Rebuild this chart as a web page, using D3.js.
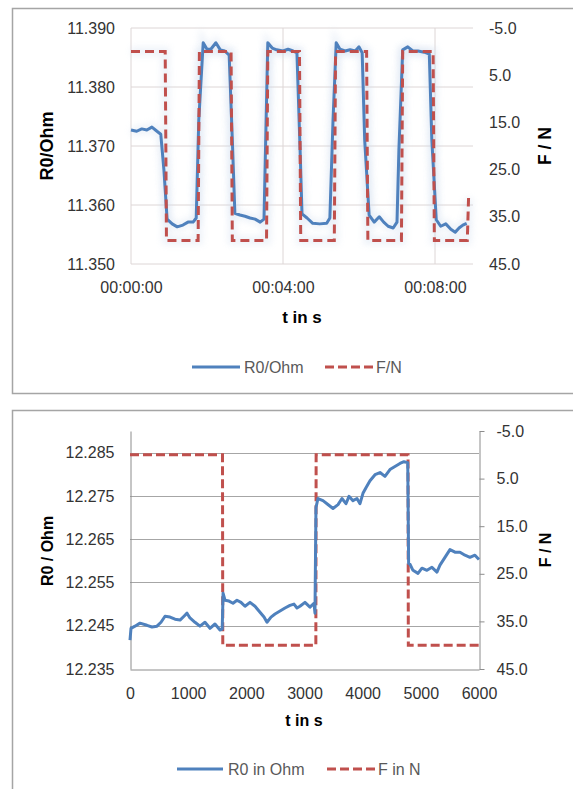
<!DOCTYPE html>
<html>
<head>
<meta charset="utf-8">
<script src="https://cdn.jsdelivr.net/npm/d3@7"></script>
<style>
  html, body { margin: 0; padding: 0; background: #fff; }
  svg { display: block; font-family: "Liberation Sans", Arial, sans-serif; }
</style>
</head>
<body>
<svg id="chart" width="573" height="789"></svg>
<script>
// ---------- Top chart data ----------
const topTimeTicks = [0, 240, 480];                 // seconds
const topTimeLabels = ["00:00:00", "00:04:00", "00:08:00"];
const topLeftTicks = [11.35, 11.36, 11.37, 11.38, 11.39];
const topRightTicks = [-5, 5, 15, 25, 35, 45];
const topR0 = [
  [0,11.3727],[9,11.3725],[17,11.3729],[25,11.3727],[33,11.3732],[41,11.3725],[47,11.3720],
  [52,11.3659],[57,11.3576],[65,11.3568],[73,11.3563],[82,11.3566],[90,11.3571],[98,11.3571],
  [103,11.3578],[107,11.3744],[114,11.3875],[120,11.3864],[126,11.3864],[134,11.3875],
  [141,11.3863],[148,11.3861],[155,11.3854],[160,11.3710],[164,11.3586],[172,11.3583],
  [180,11.3581],[188,11.3578],[196,11.3576],[204,11.3571],[210,11.3576],[213,11.3727],
  [216,11.3875],[223,11.3866],[230,11.3863],[240,11.3861],[248,11.3864],[256,11.3861],
  [262,11.3858],[267,11.3693],[270,11.3585],[278,11.3578],[287,11.3569],[298,11.3568],
  [309,11.3569],[314,11.3578],[319,11.3744],[324,11.3875],[330,11.3864],[338,11.3861],
  [346,11.3863],[354,11.3861],[360,11.3868],[365,11.3858],[369,11.3710],[376,11.3583],
  [384,11.3571],[392,11.3580],[399,11.3571],[406,11.3564],[414,11.3561],[420,11.3571],
  [423,11.3693],[429,11.3863],[437,11.3868],[445,11.3861],[453,11.3861],[463,11.3859],
  [471,11.3856],[475,11.3710],[482,11.3575],[489,11.3564],[497,11.3568],[505,11.3559],
  [512,11.3554],[518,11.3561],[524,11.3566],[530,11.3569]
];
const topF = [
  [0,0],[54,0],[56,40],[106,40],[108,0],[158,0],[160,40],[214,40],[216,0],[266,0],
  [268,40],[321,40],[323,0],[372,0],[374,40],[427,40],[429,0],[477,0],[479,40],
  [531,40],[533,31]
];

// ---------- Bottom chart data ----------
const botTimeTicks = [0, 1000, 2000, 3000, 4000, 5000, 6000];
const botLeftTicks = [12.235, 12.245, 12.255, 12.265, 12.275, 12.285];
const botRightTicks = [-5, 5, 15, 25, 35, 45];
const botR0 = [
  [0,12.2417],[17,12.2444],[86,12.2449],[172,12.2456],[292,12.2451],[378,12.2447],
  [464,12.2449],[533,12.2458],[602,12.2472],[688,12.2470],[774,12.2465],[860,12.2463],
  [928,12.2472],[980,12.2479],[1031,12.2468],[1117,12.2458],[1203,12.2449],[1289,12.2458],
  [1375,12.2444],[1461,12.2454],[1547,12.2440],[1585,12.2442],[1600,12.2525],[1633,12.2509],
  [1702,12.2507],[1771,12.2502],[1839,12.2509],[1908,12.2504],[1977,12.2495],[2063,12.2504],
  [2149,12.2495],[2235,12.2481],[2304,12.2470],[2355,12.2458],[2424,12.2470],[2493,12.2477],
  [2579,12.2484],[2665,12.2491],[2750,12.2497],[2819,12.2500],[2871,12.2491],[2922,12.2495],
  [3008,12.2504],[3094,12.2493],[3163,12.2502],[3180,12.2479],[3197,12.2723],[3232,12.2744],
  [3318,12.2739],[3386,12.2732],[3490,12.2721],[3576,12.2730],[3644,12.2744],[3713,12.2732],
  [3765,12.2749],[3833,12.2739],[3902,12.2744],[3954,12.2732],[4005,12.2756],[4057,12.2769],
  [4126,12.2785],[4212,12.2799],[4298,12.2804],[4383,12.2795],[4469,12.2811],[4555,12.2818],
  [4641,12.2825],[4710,12.2829],[4775,12.2827],[4790,12.2594],[4813,12.2592],[4865,12.2578],
  [4951,12.2571],[5019,12.2583],[5105,12.2578],[5191,12.2585],[5277,12.2574],[5329,12.2590],
  [5415,12.2608],[5501,12.2626],[5587,12.2620],[5673,12.2620],[5759,12.2613],[5844,12.2608],
  [5930,12.2613],[6000,12.2603]
];
const botF = [
  [0,0],[1590,0],[1595,40],[3195,40],[3200,0],[4780,0],[4785,40],[6000,40]
];

const BLUE = "#4f81bd", RED = "#c0504d", TXT = "#333333", LEG = "#595959";
const svg = d3.select("#chart");
const fmt1 = d => d3.format(".1f")(d).replace("\u2212", "-");

const defs = svg.append("defs");
const flt = defs.append("filter").attr("id","halo").attr("x","-10%").attr("y","-10%").attr("width","120%").attr("height","120%");
flt.append("feGaussianBlur").attr("stdDeviation", 3);

// ================= TOP CHART =================
svg.append("rect").attr("x",12.5).attr("y",8.5).attr("width",600).attr("height",385)
  .attr("fill","#fff").attr("stroke","#a5a5a5").attr("stroke-width",1.5);

const tX = d3.scaleLinear().domain([0,540]).range([131,473]);
const tYL = d3.scaleLinear().domain([11.35,11.39]).range([264,28]);
const tYR = d3.scaleLinear().domain([-5,45]).range([28,264]);
const gTop = svg.append("g");

gTop.append("g").selectAll("line").data(topLeftTicks).join("line")
  .attr("x1",131).attr("x2",473).attr("y1",d=>tYL(d)).attr("y2",d=>tYL(d))
  .attr("stroke","#ddd6d6").attr("stroke-width",1);
gTop.append("g").selectAll("line").data(topTimeTicks).join("line")
  .attr("x1",d=>tX(d)).attr("x2",d=>tX(d)).attr("y1",28).attr("y2",264)
  .attr("stroke","#ddd6d6").attr("stroke-width",1);

const tAxL = d3.axisLeft(tYL).tickValues(topLeftTicks).tickSize(0).tickPadding(16).tickFormat(d3.format(".3f"));
const gL = gTop.append("g").attr("transform","translate(131,0)").call(tAxL);
gL.select(".domain").remove();
gL.selectAll("text").attr("font-size",16).attr("fill",TXT).attr("font-family","Liberation Sans, Arial, sans-serif");

const tAxR = d3.axisRight(tYR).tickValues(topRightTicks).tickSize(0).tickPadding(16).tickFormat(fmt1);
const gR = gTop.append("g").attr("transform","translate(473,0)").call(tAxR);
gR.select(".domain").remove();
gR.selectAll("text").attr("font-size",16).attr("fill",TXT).attr("font-family","Liberation Sans, Arial, sans-serif");

const tAxB = d3.axisBottom(tX).tickValues(topTimeTicks).tickSize(0).tickPadding(18)
  .tickFormat((d,i)=>topTimeLabels[i]);
const gB = gTop.append("g").attr("transform","translate(0,264)").call(tAxB);
gB.select(".domain").remove();
gB.selectAll("text").attr("font-size",16).attr("fill",TXT).attr("font-family","Liberation Sans, Arial, sans-serif");

const tLineR0 = d3.line().x(d=>tX(d[0])).y(d=>tYL(d[1]));
const tLineF = d3.line().x(d=>tX(d[0])).y(d=>tYR(d[1]));
gTop.append("path").datum(topR0).attr("d",tLineR0).attr("fill","none")
  .attr("stroke","#c9d8ec").attr("stroke-width",9).attr("opacity",0.3).attr("filter","url(#halo)");
gTop.append("path").datum(topF).attr("d",tLineF).attr("fill","none")
  .attr("stroke","#c9d8ec").attr("stroke-width",9).attr("opacity",0.3).attr("filter","url(#halo)");

gTop.append("path").datum(topR0).attr("d",tLineR0).attr("fill","none")
  .attr("stroke",BLUE).attr("stroke-width",3).attr("stroke-linejoin","round");
gTop.append("path").datum(topF).attr("d",tLineF).attr("fill","none")
  .attr("stroke",RED).attr("stroke-width",3).attr("stroke-dasharray","9,5");

gTop.append("text").attr("transform","translate(53,146) rotate(-90)").attr("text-anchor","middle")
  .attr("font-size",18).attr("font-weight","bold").attr("fill","#000").text("R0/Ohm");
gTop.append("text").attr("transform","translate(551,146) rotate(-90)").attr("text-anchor","middle")
  .attr("font-size",17.5).attr("font-weight","bold").attr("fill","#000").text("F / N");
gTop.append("text").attr("x",302).attr("y",323).attr("text-anchor","middle")
  .attr("font-size",17).attr("font-weight","bold").attr("fill","#000").text("t in s");

gTop.append("line").attr("x1",192).attr("x2",240).attr("y1",367).attr("y2",367)
  .attr("stroke",BLUE).attr("stroke-width",3);
gTop.append("text").attr("x",244).attr("y",373).attr("font-size",16).attr("fill",LEG).text("R0/Ohm");
gTop.append("line").attr("x1",325).attr("x2",373).attr("y1",367).attr("y2",367)
  .attr("stroke",RED).attr("stroke-width",3).attr("stroke-dasharray","9,4");
gTop.append("text").attr("x",376).attr("y",373).attr("font-size",16).attr("fill",LEG).text("F/N");

// ================= BOTTOM CHART =================
svg.append("rect").attr("x",12.5).attr("y",410.5).attr("width",600).attr("height",400)
  .attr("fill","#fff").attr("stroke","#a5a5a5").attr("stroke-width",1.5);

const bX = d3.scaleLinear().domain([0,6000]).range([130,479]);
const bYL = d3.scaleLinear().domain([12.235,12.29]).range([669,431]);
const bYR = d3.scaleLinear().domain([-5,45]).range([431,669]);
const gBot = svg.append("g");

gBot.append("g").selectAll("line").data(botLeftTicks.slice(1)).join("line")
  .attr("x1",130).attr("x2",479).attr("y1",d=>Math.round(bYL(d))+0.5).attr("y2",d=>Math.round(bYL(d))+0.5)
  .attr("stroke","#a6a6a6").attr("stroke-width",1);

const bAxL = d3.axisLeft(bYL).tickValues(botLeftTicks).tickSize(0).tickPadding(16).tickFormat(d3.format(".3f"));
const bgL = gBot.append("g").attr("transform","translate(130.5,0)").call(bAxL);
bgL.select(".domain").attr("stroke","#8c8c8c");
bgL.selectAll("text").attr("font-size",16).attr("fill",TXT).attr("font-family","Liberation Sans, Arial, sans-serif");

const bAxR = d3.axisRight(bYR).tickValues(botRightTicks).tickSizeInner(5).tickSizeOuter(0).tickPadding(12).tickFormat(fmt1);
const bgR = gBot.append("g").attr("transform","translate(479.5,0)").call(bAxR);
bgR.select(".domain").attr("stroke","#8c8c8c");
bgR.selectAll("line").attr("stroke","#8c8c8c");
bgR.selectAll("text").attr("font-size",16).attr("fill",TXT).attr("font-family","Liberation Sans, Arial, sans-serif");

const bAxB = d3.axisBottom(bX).tickValues(botTimeTicks).tickSize(0).tickPadding(18).tickFormat(d3.format("d"));
const bgB = gBot.append("g").attr("transform","translate(0,669.5)").call(bAxB);
bgB.select(".domain").attr("stroke","#8c8c8c");
bgB.selectAll("text").attr("font-size",16).attr("fill",TXT).attr("font-family","Liberation Sans, Arial, sans-serif");

const bLineR0 = d3.line().x(d=>bX(d[0])).y(d=>bYL(d[1]));
const bLineF = d3.line().x(d=>bX(d[0])).y(d=>bYR(d[1]));
gBot.append("path").datum(botF).attr("d",bLineF).attr("fill","none")
  .attr("stroke",RED).attr("stroke-width",3).attr("stroke-dasharray","9,4");
gBot.append("path").datum(botR0).attr("d",bLineR0).attr("fill","none")
  .attr("stroke",BLUE).attr("stroke-width",3).attr("stroke-linejoin","round");

gBot.append("text").attr("transform","translate(53,551) rotate(-90)").attr("text-anchor","middle")
  .attr("font-size",16).attr("font-weight","bold").attr("fill","#000").text("R0 / Ohm");
gBot.append("text").attr("transform","translate(551,550) rotate(-90)").attr("text-anchor","middle")
  .attr("font-size",16).attr("font-weight","bold").attr("fill","#000").text("F / N");
gBot.append("text").attr("x",304).attr("y",726).attr("text-anchor","middle")
  .attr("font-size",16).attr("font-weight","bold").attr("fill","#000").text("t in s");

gBot.append("line").attr("x1",177).attr("x2",223).attr("y1",769).attr("y2",769)
  .attr("stroke",BLUE).attr("stroke-width",3);
gBot.append("text").attr("x",228).attr("y",775).attr("font-size",16).attr("fill",LEG).text("R0 in Ohm");
gBot.append("line").attr("x1",327).attr("x2",375).attr("y1",769).attr("y2",769)
  .attr("stroke",RED).attr("stroke-width",3).attr("stroke-dasharray","9,4");
gBot.append("text").attr("x",378).attr("y",775).attr("font-size",16).attr("fill",LEG).text("F in N");
</script>
</body>
</html>
